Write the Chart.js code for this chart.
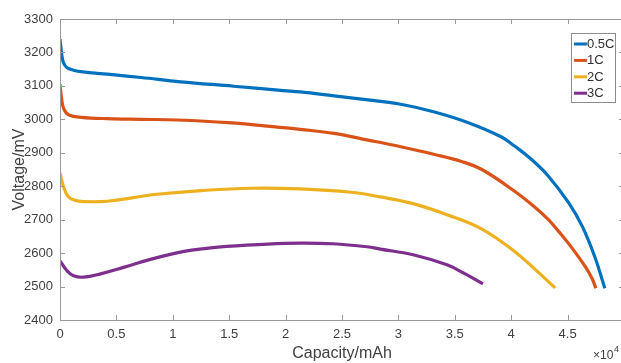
<!DOCTYPE html>
<html>
<head>
<meta charset="utf-8">
<script src="https://cdn.jsdelivr.net/npm/chart.js@4.4.1/dist/chart.umd.min.js"></script>
<style>
html, body { margin: 0; padding: 0; background: #fff; overflow: hidden; }
#wrap { width: 627px; height: 363px; }
</style>
</head>
<body>
<div id="wrap"><canvas id="dischargeChart" width="627" height="363"></canvas></div>
<script>
// capacity in units of 10^4 mAh, voltage in mV
const seriesLabels = ['0.5C', '1C', '2C', '3C'];
const seriesColors = ['#0072BD', '#D95319', '#EDB120', '#7E2F8E'];

const cap05 = [0, 0.015, 0.03, 0.06, 0.12, 0.2, 0.42, 0.72, 1.07, 1.54, 1.98, 2.13, 2.43, 2.73, 3.02, 3.32, 3.62, 3.91, 4.03, 4.17, 4.33, 4.51, 4.63, 4.74, 4.83];
const volt05 = [3240, 3195, 3170, 3155, 3147, 3142, 3135, 3125, 3112, 3099, 3086, 3082, 3070, 3058, 3045, 3022, 2990, 2948, 2920, 2883, 2830, 2750, 2680, 2590, 2495];

const cap1 = [0, 0.015, 0.035, 0.08, 0.19, 0.42, 0.72, 1.04, 1.49, 1.98, 2.13, 2.43, 2.73, 3.02, 3.32, 3.56, 3.74, 4.03, 4.2, 4.33, 4.42, 4.54, 4.66, 4.72, 4.75];
const volt1 = [3105, 3060, 3030, 3013, 3006, 3002, 3000, 2998, 2990, 2975, 2970, 2958, 2938, 2918, 2895, 2874, 2850, 2785, 2740, 2700, 2665, 2615, 2558, 2522, 2495];

const cap2 = [0, 0.03, 0.07, 0.13, 0.21, 0.42, 0.65, 0.86, 1.25, 1.69, 2.13, 2.58, 2.84, 3.13, 3.43, 3.74, 4.03, 4.2, 4.39];
const volt2 = [2840, 2800, 2770, 2758, 2754, 2755, 2766, 2776, 2787, 2794, 2792, 2782, 2768, 2748, 2715, 2672, 2605, 2555, 2496];

const cap3 = [0, 0.06, 0.12, 0.21, 0.36, 0.57, 0.81, 1.1, 1.4, 1.84, 2.13, 2.42, 2.72, 2.84, 3.13, 3.43, 3.58, 3.75];
const volt3 = [2577, 2548, 2532, 2528, 2538, 2558, 2582, 2605, 2618, 2627, 2630, 2628, 2619, 2612, 2595, 2565, 2540, 2508];

const capSeries = [cap05, cap1, cap2, cap3];
const voltSeries = [volt05, volt1, volt2, volt3];

const xMin = 0, xMax = 5, xStep = 0.5;
const yMin = 2400, yMax = 3300, yStep = 100;

function makePoints(caps, volts) {
    return caps.map(function (c, i) { return { x: c, y: volts[i] }; });
}

const FONT = "'Liberation Sans', Arial, Helvetica, sans-serif";
const AXIS_COLOR = '#9a9a9a';

// box round the plot with inward ticks on all four sides, plus the x10^4 note
const boxTicks = {
    id: 'boxTicks',
    afterDatasetsDraw(chart) {
        const ctx = chart.ctx;
        const a = chart.chartArea;
        const xs = chart.scales.x, ys = chart.scales.y;
        const len = 5;
        ctx.save();
        ctx.strokeStyle = AXIS_COLOR;
        ctx.lineWidth = 1;
        ctx.strokeRect(Math.round(a.left) + 0.5, Math.round(a.top) + 0.5,
            Math.round(a.right - a.left), Math.round(a.bottom - a.top));
        ctx.beginPath();
        xs.ticks.forEach(function (t) {
            const px = Math.round(xs.getPixelForValue(t.value)) + 0.5;
            ctx.moveTo(px, a.bottom); ctx.lineTo(px, a.bottom - len);
            ctx.moveTo(px, a.top); ctx.lineTo(px, a.top + len);
        });
        ys.ticks.forEach(function (t) {
            const py = Math.round(ys.getPixelForValue(t.value)) + 0.5;
            ctx.moveTo(a.left, py); ctx.lineTo(a.left + len, py);
            ctx.moveTo(a.right, py); ctx.lineTo(a.right - len, py);
        });
        ctx.stroke();

        ctx.fillStyle = '#404040';
        ctx.textBaseline = 'middle';
        ctx.textAlign = 'left';
        ctx.font = '12px ' + FONT;
        ctx.fillText('\u00d710', 593, 356);
        ctx.font = '9px ' + FONT;
        ctx.fillText('4', 614, 350);
        ctx.restore();
    }
};

// legend drawn as a boxed list in the upper right of the plot
const boxLegend = {
    id: 'boxLegend',
    afterDraw(chart) {
        const ctx = chart.ctx;
        const a = chart.chartArea;
        const bx = a.right - 53, by = a.top + 14, bw = 44, bh = 69;
        ctx.save();
        ctx.fillStyle = '#fff';
        ctx.fillRect(bx, by, bw, bh);
        ctx.strokeStyle = '#8c8c8c';
        ctx.lineWidth = 1;
        ctx.strokeRect(bx + 0.5, by + 0.5, bw, bh);
        ctx.font = '13px ' + FONT;
        ctx.textBaseline = 'middle';
        ctx.textAlign = 'left';
        chart.data.datasets.forEach(function (ds, i) {
            const cy = by + 11 + i * 16.4;
            ctx.strokeStyle = ds.borderColor;
            ctx.lineWidth = 3;
            ctx.beginPath();
            ctx.moveTo(bx + 3, cy);
            ctx.lineTo(bx + 16, cy);
            ctx.stroke();
            ctx.fillStyle = '#303030';
            ctx.fillText(ds.label, bx + 16, cy + 0.5);
        });
        ctx.restore();
    }
};

window.addEventListener('DOMContentLoaded', function () {
    Chart.defaults.font.family = FONT;
    Chart.defaults.color = '#404040';

    const datasets = seriesLabels.map(function (label, i) {
        return {
            label: label,
            data: makePoints(capSeries[i], voltSeries[i]),
            borderColor: seriesColors[i],
            backgroundColor: seriesColors[i],
            borderWidth: 3.2,
            pointRadius: 0,
            fill: false,
            tension: 0.4
        };
    });

    const ctx = document.getElementById('dischargeChart').getContext('2d');
    new Chart(ctx, {
        type: 'line',
        data: { datasets: datasets },
        plugins: [boxTicks, boxLegend],
        options: {
            responsive: false,
            animation: false,
            layout: { padding: { left: 0, top: 19, right: 3, bottom: 0 } },
            plugins: {
                legend: { display: false },
                tooltip: { enabled: false }
            },
            scales: {
                x: {
                    type: 'linear',
                    min: xMin,
                    max: xMax,
                    grid: { display: false, drawTicks: false },
                    border: { display: false },
                    ticks: {
                        stepSize: xStep, padding: 7, font: { size: 13 }, maxRotation: 0,
                        callback: function (v) { return String(v); }
                    },
                    title: {
                        display: true,
                        text: 'Capacity/mAh',
                        font: { size: 16 },
                        padding: { top: 0, bottom: 0 }
                    },
                    afterFit: function (s) { s.height = 43; s.paddingLeft = 0; s.paddingRight = 0; }
                },
                y: {
                    type: 'linear',
                    min: yMin,
                    max: yMax,
                    grid: { display: false, drawTicks: false },
                    border: { display: false },
                    ticks: {
                        stepSize: yStep, padding: 7, font: { size: 13 },
                        callback: function (v) { return String(v); }
                    },
                    title: {
                        display: true,
                        text: 'Voltage/mV',
                        font: { size: 16 },
                        padding: { top: 10, bottom: 0 }
                    },
                    afterFit: function (s) { s.width = 60; s.paddingTop = 0; s.paddingBottom = 0; }
                }
            }
        }
    });
});
</script>
</body>
</html>
